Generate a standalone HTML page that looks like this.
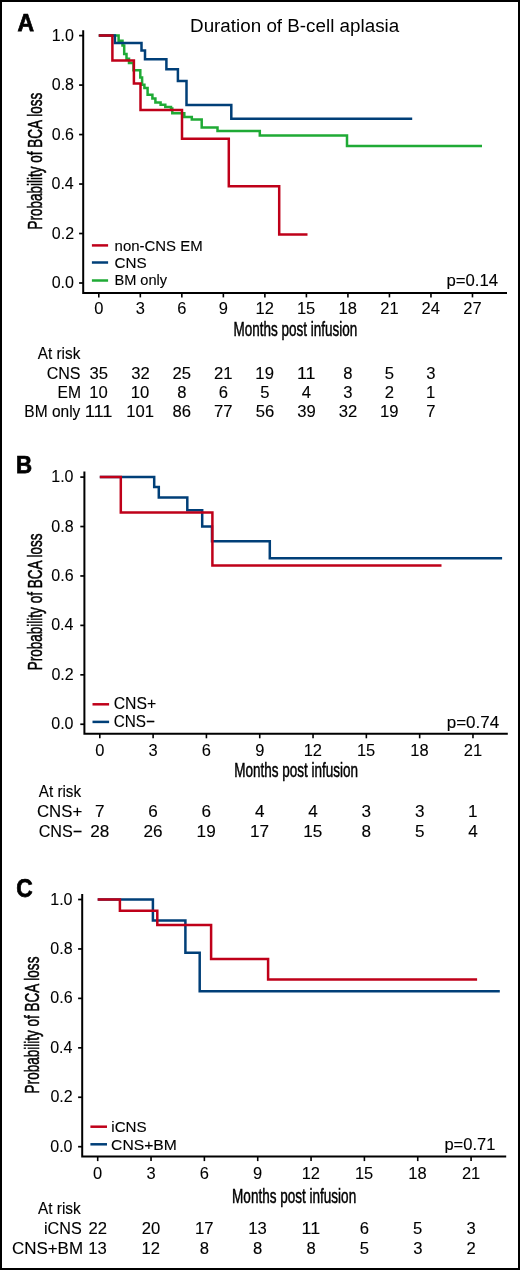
<!DOCTYPE html><html><head><meta charset="utf-8"><style>html,body{margin:0;padding:0;background:#fff;}svg{display:block;will-change:transform;}text{font-family:"Liberation Sans",sans-serif;}</style></head><body>
<svg width="520" height="1270" viewBox="0 0 520 1270">
<rect x="0" y="0" width="520" height="1270" fill="#fff"/>
<rect x="1" y="1" width="518" height="1268" fill="none" stroke="#000" stroke-width="2"/>
<text x="190.06" y="31.6" font-size="18" textLength="209.14" lengthAdjust="spacingAndGlyphs" fill="#000">Duration of B-cell aplasia</text>
<path d="M83.2 31.2 V292.9 H506" fill="none" stroke="#000" stroke-width="2.0" stroke-linecap="square" stroke-linejoin="miter"/>
<path d="M79.1 283 H83.2" stroke="#000" stroke-width="1.7"/>
<text x="51.68" y="288.1" font-size="16" textLength="22.24" lengthAdjust="spacingAndGlyphs" stroke="#000" stroke-width="0.08">0.0</text>
<path d="M79.1 233.52 H83.2" stroke="#000" stroke-width="1.7"/>
<text x="51.86" y="238.62" font-size="16" textLength="22.24" lengthAdjust="spacingAndGlyphs" stroke="#000" stroke-width="0.08">0.2</text>
<path d="M79.1 184.04 H83.2" stroke="#000" stroke-width="1.7"/>
<text x="51.53" y="189.14" font-size="16" textLength="22.24" lengthAdjust="spacingAndGlyphs" stroke="#000" stroke-width="0.08">0.4</text>
<path d="M79.1 134.56 H83.2" stroke="#000" stroke-width="1.7"/>
<text x="51.76" y="139.66" font-size="16" textLength="22.24" lengthAdjust="spacingAndGlyphs" stroke="#000" stroke-width="0.08">0.6</text>
<path d="M79.1 85.08 H83.2" stroke="#000" stroke-width="1.7"/>
<text x="51.75" y="90.18" font-size="16" textLength="22.24" lengthAdjust="spacingAndGlyphs" stroke="#000" stroke-width="0.08">0.8</text>
<path d="M79.1 35.6 H83.2" stroke="#000" stroke-width="1.7"/>
<text x="51.68" y="40.7" font-size="16" textLength="22.24" lengthAdjust="spacingAndGlyphs" stroke="#000" stroke-width="0.08">1.0</text>
<path d="M98.8 292.9 V297.4" stroke="#000" stroke-width="1.6"/>
<text x="94.22" y="314.1" font-size="16" textLength="9.17" lengthAdjust="spacingAndGlyphs" stroke="#000" stroke-width="0.08">0</text>
<path d="M140.32 292.9 V297.4" stroke="#000" stroke-width="1.6"/>
<text x="135.79" y="314.1" font-size="16" textLength="9.17" lengthAdjust="spacingAndGlyphs" stroke="#000" stroke-width="0.08">3</text>
<path d="M181.84 292.9 V297.4" stroke="#000" stroke-width="1.6"/>
<text x="177.2" y="314.1" font-size="16" textLength="9.17" lengthAdjust="spacingAndGlyphs" stroke="#000" stroke-width="0.08">6</text>
<path d="M223.36 292.9 V297.4" stroke="#000" stroke-width="1.6"/>
<text x="218.78" y="314.1" font-size="16" textLength="9.17" lengthAdjust="spacingAndGlyphs" stroke="#000" stroke-width="0.08">9</text>
<path d="M264.88 292.9 V297.4" stroke="#000" stroke-width="1.6"/>
<text x="255.5" y="314.1" font-size="16" textLength="18.33" lengthAdjust="spacingAndGlyphs" stroke="#000" stroke-width="0.08">12</text>
<path d="M306.4 292.9 V297.4" stroke="#000" stroke-width="1.6"/>
<text x="296.95" y="314.1" font-size="16" textLength="18.33" lengthAdjust="spacingAndGlyphs" stroke="#000" stroke-width="0.08">15</text>
<path d="M347.92 292.9 V297.4" stroke="#000" stroke-width="1.6"/>
<text x="338.49" y="314.1" font-size="16" textLength="18.33" lengthAdjust="spacingAndGlyphs" stroke="#000" stroke-width="0.08">18</text>
<path d="M389.44 292.9 V297.4" stroke="#000" stroke-width="1.6"/>
<text x="380.26" y="314.1" font-size="16" textLength="18.33" lengthAdjust="spacingAndGlyphs" stroke="#000" stroke-width="0.08">21</text>
<path d="M430.96 292.9 V297.4" stroke="#000" stroke-width="1.6"/>
<text x="421.62" y="314.1" font-size="16" textLength="18.33" lengthAdjust="spacingAndGlyphs" stroke="#000" stroke-width="0.08">24</text>
<path d="M472.48 292.9 V297.4" stroke="#000" stroke-width="1.6"/>
<text x="463.31" y="314.1" font-size="16" textLength="18.33" lengthAdjust="spacingAndGlyphs" stroke="#000" stroke-width="0.08">27</text>
<text x="233.49" y="336" font-size="19.5" textLength="123.68" lengthAdjust="spacingAndGlyphs" fill="#000" stroke="#000" stroke-width="0.5">Months post infusion</text>
<text transform="translate(41.9,228.5) rotate(-90)" x="-1.1" y="0" font-size="19.8" textLength="136.79" lengthAdjust="spacingAndGlyphs" stroke="#000" stroke-width="0.5">Probability of BCA loss</text>
<path d="M98.8 35.6 H118.6 V40.8 H122.5 V45.5 H124.2 V54 H126.5 V58.8 H129 V63.1 H133.5 V70.3 H140.3 V77.5 H142.1 V84.7 H144.4 V87.9 H147.6 V94.8 H152.4 V98.6 H155.4 V102.4 H160.6 V104.7 H165.3 V107.1 H171 V108.5 H172.3 V113.3 H184.3 V116.9 H191.8 V119.4 H201.7 V127.5 H217.5 V131 H259.8 V135.5 H347 V146.1 H482" fill="none" stroke="#1faa35" stroke-width="2.5" stroke-linejoin="miter" stroke-linecap="butt"/>
<path d="M98.8 35.6 H114.9 V42.9 H141.5 V50.6 H145 V59.2 H166.4 V69.3 H177.9 V81.1 H186.5 V104.9 H231.3 V118.8 H412.2" fill="none" stroke="#003f78" stroke-width="2.5" stroke-linejoin="miter" stroke-linecap="butt"/>
<path d="M98.8 35.6 H112.4 V60.4 H133.9 V83.4 H140.5 V109.9 H182 V138.7 H228.8 V186.2 H279.2 V234.4 H307.5" fill="none" stroke="#bf0019" stroke-width="2.5" stroke-linejoin="miter" stroke-linecap="butt"/>
<path d="M91.9 245.4 H108.1" stroke="#bf0019" stroke-width="2.5"/>
<path d="M91.9 262.5 H108.1" stroke="#003f78" stroke-width="2.5"/>
<path d="M91.9 280.5 H108.1" stroke="#1faa35" stroke-width="2.5"/>
<text x="114.61" y="250.6" font-size="15" textLength="88.02" lengthAdjust="spacingAndGlyphs" fill="#000" stroke="#000" stroke-width="0.12">non-CNS EM</text>
<text x="114.53" y="268.2" font-size="15" textLength="32.17" lengthAdjust="spacingAndGlyphs" fill="#000" stroke="#000" stroke-width="0.12">CNS</text>
<text x="114.4" y="284.7" font-size="15" textLength="52.73" lengthAdjust="spacingAndGlyphs" fill="#000" stroke="#000" stroke-width="0.12">BM only</text>
<text x="446.42" y="285.6" font-size="16.5" textLength="51.67" lengthAdjust="spacingAndGlyphs" fill="#000" stroke="#000" stroke-width="0.12">p=0.14</text>
<text x="17.43" y="30.7" font-size="24" font-weight="bold" textLength="16.58" lengthAdjust="spacingAndGlyphs" fill="#000" stroke="#000" stroke-width="0.75">A</text>
<text x="37.87" y="359.4" font-size="16" textLength="42.41" lengthAdjust="spacingAndGlyphs" fill="#000" stroke="#000" stroke-width="0.12">At risk</text>
<text x="46.69" y="378.8" font-size="16" textLength="33.85" lengthAdjust="spacingAndGlyphs" fill="#000" stroke="#000" stroke-width="0.12">CNS</text>
<text x="89.58" y="378.8" font-size="16" textLength="18.51" lengthAdjust="spacingAndGlyphs" stroke="#000" stroke-width="0.12">35</text>
<text x="131.17" y="378.8" font-size="16" textLength="18.51" lengthAdjust="spacingAndGlyphs" stroke="#000" stroke-width="0.12">32</text>
<text x="172.52" y="378.8" font-size="16" textLength="18.51" lengthAdjust="spacingAndGlyphs" stroke="#000" stroke-width="0.12">25</text>
<text x="214.09" y="378.8" font-size="16" textLength="18.51" lengthAdjust="spacingAndGlyphs" stroke="#000" stroke-width="0.12">21</text>
<text x="255.39" y="378.8" font-size="16" textLength="18.51" lengthAdjust="spacingAndGlyphs" stroke="#000" stroke-width="0.12">19</text>
<text x="296.92" y="378.8" font-size="16" textLength="18.51" lengthAdjust="spacingAndGlyphs" stroke="#000" stroke-width="0.12">11</text>
<text x="343.29" y="378.8" font-size="16" textLength="9.25" lengthAdjust="spacingAndGlyphs" stroke="#000" stroke-width="0.12">8</text>
<text x="384.83" y="378.8" font-size="16" textLength="9.25" lengthAdjust="spacingAndGlyphs" stroke="#000" stroke-width="0.12">5</text>
<text x="426.38" y="378.8" font-size="16" textLength="9.25" lengthAdjust="spacingAndGlyphs" stroke="#000" stroke-width="0.12">3</text>
<text x="57.62" y="398.2" font-size="16" textLength="23.47" lengthAdjust="spacingAndGlyphs" fill="#000" stroke="#000" stroke-width="0.12">EM</text>
<text x="89.24" y="398.2" font-size="16" textLength="18.51" lengthAdjust="spacingAndGlyphs" stroke="#000" stroke-width="0.12">10</text>
<text x="130.76" y="398.2" font-size="16" textLength="18.51" lengthAdjust="spacingAndGlyphs" stroke="#000" stroke-width="0.12">10</text>
<text x="177.21" y="398.2" font-size="16" textLength="9.25" lengthAdjust="spacingAndGlyphs" stroke="#000" stroke-width="0.12">8</text>
<text x="218.68" y="398.2" font-size="16" textLength="9.25" lengthAdjust="spacingAndGlyphs" stroke="#000" stroke-width="0.12">6</text>
<text x="260.27" y="398.2" font-size="16" textLength="9.25" lengthAdjust="spacingAndGlyphs" stroke="#000" stroke-width="0.12">5</text>
<text x="301.83" y="398.2" font-size="16" textLength="9.25" lengthAdjust="spacingAndGlyphs" stroke="#000" stroke-width="0.12">4</text>
<text x="343.34" y="398.2" font-size="16" textLength="9.25" lengthAdjust="spacingAndGlyphs" stroke="#000" stroke-width="0.12">3</text>
<text x="384.81" y="398.2" font-size="16" textLength="9.25" lengthAdjust="spacingAndGlyphs" stroke="#000" stroke-width="0.12">2</text>
<text x="426.11" y="398.2" font-size="16" textLength="9.25" lengthAdjust="spacingAndGlyphs" stroke="#000" stroke-width="0.12">1</text>
<text x="24.33" y="417.4" font-size="16" textLength="56" lengthAdjust="spacingAndGlyphs" fill="#000" stroke="#000" stroke-width="0.12">BM only</text>
<text x="84.69" y="417.4" font-size="16" textLength="27.76" lengthAdjust="spacingAndGlyphs" stroke="#000" stroke-width="0.12">111</text>
<text x="126.21" y="417.4" font-size="16" textLength="27.76" lengthAdjust="spacingAndGlyphs" stroke="#000" stroke-width="0.12">101</text>
<text x="172.59" y="417.4" font-size="16" textLength="18.51" lengthAdjust="spacingAndGlyphs" stroke="#000" stroke-width="0.12">86</text>
<text x="214.1" y="417.4" font-size="16" textLength="18.51" lengthAdjust="spacingAndGlyphs" stroke="#000" stroke-width="0.12">77</text>
<text x="255.66" y="417.4" font-size="16" textLength="18.51" lengthAdjust="spacingAndGlyphs" stroke="#000" stroke-width="0.12">56</text>
<text x="297.22" y="417.4" font-size="16" textLength="18.51" lengthAdjust="spacingAndGlyphs" stroke="#000" stroke-width="0.12">39</text>
<text x="338.77" y="417.4" font-size="16" textLength="18.51" lengthAdjust="spacingAndGlyphs" stroke="#000" stroke-width="0.12">32</text>
<text x="379.95" y="417.4" font-size="16" textLength="18.51" lengthAdjust="spacingAndGlyphs" stroke="#000" stroke-width="0.12">19</text>
<text x="426.32" y="417.4" font-size="16" textLength="9.25" lengthAdjust="spacingAndGlyphs" stroke="#000" stroke-width="0.12">7</text>
<path d="M84.4 472.6 V733.8 H506.8" fill="none" stroke="#000" stroke-width="2.0" stroke-linecap="square" stroke-linejoin="miter"/>
<path d="M80.3 724.25 H84.4" stroke="#000" stroke-width="1.7"/>
<text x="51.28" y="729.35" font-size="16" textLength="22.24" lengthAdjust="spacingAndGlyphs" stroke="#000" stroke-width="0.08">0.0</text>
<path d="M80.3 674.82 H84.4" stroke="#000" stroke-width="1.7"/>
<text x="51.46" y="679.92" font-size="16" textLength="22.24" lengthAdjust="spacingAndGlyphs" stroke="#000" stroke-width="0.08">0.2</text>
<path d="M80.3 625.39 H84.4" stroke="#000" stroke-width="1.7"/>
<text x="51.13" y="630.49" font-size="16" textLength="22.24" lengthAdjust="spacingAndGlyphs" stroke="#000" stroke-width="0.08">0.4</text>
<path d="M80.3 575.96 H84.4" stroke="#000" stroke-width="1.7"/>
<text x="51.36" y="581.06" font-size="16" textLength="22.24" lengthAdjust="spacingAndGlyphs" stroke="#000" stroke-width="0.08">0.6</text>
<path d="M80.3 526.53 H84.4" stroke="#000" stroke-width="1.7"/>
<text x="51.35" y="531.63" font-size="16" textLength="22.24" lengthAdjust="spacingAndGlyphs" stroke="#000" stroke-width="0.08">0.8</text>
<path d="M80.3 477.1 H84.4" stroke="#000" stroke-width="1.7"/>
<text x="51.28" y="482.2" font-size="16" textLength="22.24" lengthAdjust="spacingAndGlyphs" stroke="#000" stroke-width="0.08">1.0</text>
<path d="M99.8 733.8 V738.3" stroke="#000" stroke-width="1.6"/>
<text x="95.22" y="755.7" font-size="16" textLength="9.17" lengthAdjust="spacingAndGlyphs" stroke="#000" stroke-width="0.08">0</text>
<path d="M153.11 733.8 V738.3" stroke="#000" stroke-width="1.6"/>
<text x="148.58" y="755.7" font-size="16" textLength="9.17" lengthAdjust="spacingAndGlyphs" stroke="#000" stroke-width="0.08">3</text>
<path d="M206.42 733.8 V738.3" stroke="#000" stroke-width="1.6"/>
<text x="201.78" y="755.7" font-size="16" textLength="9.17" lengthAdjust="spacingAndGlyphs" stroke="#000" stroke-width="0.08">6</text>
<path d="M259.73 733.8 V738.3" stroke="#000" stroke-width="1.6"/>
<text x="255.15" y="755.7" font-size="16" textLength="9.17" lengthAdjust="spacingAndGlyphs" stroke="#000" stroke-width="0.08">9</text>
<path d="M313.04 733.8 V738.3" stroke="#000" stroke-width="1.6"/>
<text x="303.66" y="755.7" font-size="16" textLength="18.33" lengthAdjust="spacingAndGlyphs" stroke="#000" stroke-width="0.08">12</text>
<path d="M366.35 733.8 V738.3" stroke="#000" stroke-width="1.6"/>
<text x="356.9" y="755.7" font-size="16" textLength="18.33" lengthAdjust="spacingAndGlyphs" stroke="#000" stroke-width="0.08">15</text>
<path d="M419.66 733.8 V738.3" stroke="#000" stroke-width="1.6"/>
<text x="410.23" y="755.7" font-size="16" textLength="18.33" lengthAdjust="spacingAndGlyphs" stroke="#000" stroke-width="0.08">18</text>
<path d="M472.97 733.8 V738.3" stroke="#000" stroke-width="1.6"/>
<text x="463.79" y="755.7" font-size="16" textLength="18.33" lengthAdjust="spacingAndGlyphs" stroke="#000" stroke-width="0.08">21</text>
<text x="234.19" y="777.3" font-size="19.5" textLength="123.89" lengthAdjust="spacingAndGlyphs" fill="#000" stroke="#000" stroke-width="0.5">Months post infusion</text>
<text transform="translate(41.9,669.2) rotate(-90)" x="-1.1" y="0" font-size="19.8" textLength="136.89" lengthAdjust="spacingAndGlyphs" stroke="#000" stroke-width="0.5">Probability of BCA loss</text>
<path d="M99.8 476.9 H154.2 V487 H158.8 V497.6 H187.3 V510.3 H202.2 V526.5 H212 V541.3 H269.8 V558.2 H502.1" fill="none" stroke="#003f78" stroke-width="2.5" stroke-linejoin="miter" stroke-linecap="butt"/>
<path d="M99.8 476.9 H120.8 V512.6 H212.4 V565.6 H441.5" fill="none" stroke="#bf0019" stroke-width="2.5" stroke-linejoin="miter" stroke-linecap="butt"/>
<path d="M92.5 704.3 H109.1" stroke="#bf0019" stroke-width="2.5"/>
<path d="M92.5 721.9 H109.1" stroke="#003f78" stroke-width="2.5"/>
<text x="113.7" y="708.9" font-size="16.5" textLength="42.48" lengthAdjust="spacingAndGlyphs" fill="#000" stroke="#000" stroke-width="0.12">CNS+</text>
<text x="113.72" y="726.5" font-size="16.5" textLength="41.33" lengthAdjust="spacingAndGlyphs" fill="#000" stroke="#000" stroke-width="0.12">CNS−</text>
<text x="446.7" y="727.6" font-size="16.5" textLength="52.49" lengthAdjust="spacingAndGlyphs" fill="#000" stroke="#000" stroke-width="0.12">p=0.74</text>
<text x="15.91" y="473.1" font-size="24" font-weight="bold" textLength="16.1" lengthAdjust="spacingAndGlyphs" fill="#000" stroke="#000" stroke-width="0.75">B</text>
<text x="38.77" y="797.3" font-size="16.5" textLength="42.31" lengthAdjust="spacingAndGlyphs" fill="#000" stroke="#000" stroke-width="0.12">At risk</text>
<text x="36.95" y="816.9" font-size="16.5" textLength="45.28" lengthAdjust="spacingAndGlyphs" fill="#000" stroke="#000" stroke-width="0.12">CNS+</text>
<text x="95.02" y="816.9" font-size="16.5" textLength="9.54" lengthAdjust="spacingAndGlyphs" stroke="#000" stroke-width="0.12">7</text>
<text x="148.28" y="816.9" font-size="16.5" textLength="9.54" lengthAdjust="spacingAndGlyphs" stroke="#000" stroke-width="0.12">6</text>
<text x="201.59" y="816.9" font-size="16.5" textLength="9.54" lengthAdjust="spacingAndGlyphs" stroke="#000" stroke-width="0.12">6</text>
<text x="255.01" y="816.9" font-size="16.5" textLength="9.54" lengthAdjust="spacingAndGlyphs" stroke="#000" stroke-width="0.12">4</text>
<text x="308.32" y="816.9" font-size="16.5" textLength="9.54" lengthAdjust="spacingAndGlyphs" stroke="#000" stroke-width="0.12">4</text>
<text x="361.63" y="816.9" font-size="16.5" textLength="9.54" lengthAdjust="spacingAndGlyphs" stroke="#000" stroke-width="0.12">3</text>
<text x="414.94" y="816.9" font-size="16.5" textLength="9.54" lengthAdjust="spacingAndGlyphs" stroke="#000" stroke-width="0.12">3</text>
<text x="467.96" y="816.9" font-size="16.5" textLength="9.54" lengthAdjust="spacingAndGlyphs" stroke="#000" stroke-width="0.12">1</text>
<text x="38.68" y="836.9" font-size="16.5" textLength="43.51" lengthAdjust="spacingAndGlyphs" fill="#000" stroke="#000" stroke-width="0.12">CNS−</text>
<text x="90.2" y="836.9" font-size="16.5" textLength="19.09" lengthAdjust="spacingAndGlyphs" stroke="#000" stroke-width="0.12">28</text>
<text x="143.51" y="836.9" font-size="16.5" textLength="19.09" lengthAdjust="spacingAndGlyphs" stroke="#000" stroke-width="0.12">26</text>
<text x="196.63" y="836.9" font-size="16.5" textLength="19.09" lengthAdjust="spacingAndGlyphs" stroke="#000" stroke-width="0.12">19</text>
<text x="249.96" y="836.9" font-size="16.5" textLength="19.09" lengthAdjust="spacingAndGlyphs" stroke="#000" stroke-width="0.12">17</text>
<text x="303.2" y="836.9" font-size="16.5" textLength="19.09" lengthAdjust="spacingAndGlyphs" stroke="#000" stroke-width="0.12">15</text>
<text x="361.58" y="836.9" font-size="16.5" textLength="9.54" lengthAdjust="spacingAndGlyphs" stroke="#000" stroke-width="0.12">8</text>
<text x="414.9" y="836.9" font-size="16.5" textLength="9.54" lengthAdjust="spacingAndGlyphs" stroke="#000" stroke-width="0.12">5</text>
<text x="468.25" y="836.9" font-size="16.5" textLength="9.54" lengthAdjust="spacingAndGlyphs" stroke="#000" stroke-width="0.12">4</text>
<path d="M82.2 894.9 V1156.6 H505.2" fill="none" stroke="#000" stroke-width="2.0" stroke-linecap="square" stroke-linejoin="miter"/>
<path d="M78.1 1146.7 H82.2" stroke="#000" stroke-width="1.7"/>
<text x="50.28" y="1151.8" font-size="16" textLength="22.24" lengthAdjust="spacingAndGlyphs" stroke="#000" stroke-width="0.08">0.0</text>
<path d="M78.1 1097.26 H82.2" stroke="#000" stroke-width="1.7"/>
<text x="50.46" y="1102.36" font-size="16" textLength="22.24" lengthAdjust="spacingAndGlyphs" stroke="#000" stroke-width="0.08">0.2</text>
<path d="M78.1 1047.82 H82.2" stroke="#000" stroke-width="1.7"/>
<text x="50.13" y="1052.92" font-size="16" textLength="22.24" lengthAdjust="spacingAndGlyphs" stroke="#000" stroke-width="0.08">0.4</text>
<path d="M78.1 998.38 H82.2" stroke="#000" stroke-width="1.7"/>
<text x="50.36" y="1003.48" font-size="16" textLength="22.24" lengthAdjust="spacingAndGlyphs" stroke="#000" stroke-width="0.08">0.6</text>
<path d="M78.1 948.94 H82.2" stroke="#000" stroke-width="1.7"/>
<text x="50.35" y="954.04" font-size="16" textLength="22.24" lengthAdjust="spacingAndGlyphs" stroke="#000" stroke-width="0.08">0.8</text>
<path d="M78.1 899.5 H82.2" stroke="#000" stroke-width="1.7"/>
<text x="50.28" y="904.6" font-size="16" textLength="22.24" lengthAdjust="spacingAndGlyphs" stroke="#000" stroke-width="0.08">1.0</text>
<path d="M97.7 1156.6 V1161.1" stroke="#000" stroke-width="1.6"/>
<text x="93.12" y="1178.8" font-size="16" textLength="9.17" lengthAdjust="spacingAndGlyphs" stroke="#000" stroke-width="0.08">0</text>
<path d="M151.04 1156.6 V1161.1" stroke="#000" stroke-width="1.6"/>
<text x="146.51" y="1178.8" font-size="16" textLength="9.17" lengthAdjust="spacingAndGlyphs" stroke="#000" stroke-width="0.08">3</text>
<path d="M204.38 1156.6 V1161.1" stroke="#000" stroke-width="1.6"/>
<text x="199.74" y="1178.8" font-size="16" textLength="9.17" lengthAdjust="spacingAndGlyphs" stroke="#000" stroke-width="0.08">6</text>
<path d="M257.72 1156.6 V1161.1" stroke="#000" stroke-width="1.6"/>
<text x="253.14" y="1178.8" font-size="16" textLength="9.17" lengthAdjust="spacingAndGlyphs" stroke="#000" stroke-width="0.08">9</text>
<path d="M311.06 1156.6 V1161.1" stroke="#000" stroke-width="1.6"/>
<text x="301.68" y="1178.8" font-size="16" textLength="18.33" lengthAdjust="spacingAndGlyphs" stroke="#000" stroke-width="0.08">12</text>
<path d="M364.4 1156.6 V1161.1" stroke="#000" stroke-width="1.6"/>
<text x="354.95" y="1178.8" font-size="16" textLength="18.33" lengthAdjust="spacingAndGlyphs" stroke="#000" stroke-width="0.08">15</text>
<path d="M417.74 1156.6 V1161.1" stroke="#000" stroke-width="1.6"/>
<text x="408.31" y="1178.8" font-size="16" textLength="18.33" lengthAdjust="spacingAndGlyphs" stroke="#000" stroke-width="0.08">18</text>
<path d="M471.08 1156.6 V1161.1" stroke="#000" stroke-width="1.6"/>
<text x="461.9" y="1178.8" font-size="16" textLength="18.33" lengthAdjust="spacingAndGlyphs" stroke="#000" stroke-width="0.08">21</text>
<text x="232.09" y="1202.8" font-size="19.5" textLength="124.09" lengthAdjust="spacingAndGlyphs" fill="#000" stroke="#000" stroke-width="0.5">Months post infusion</text>
<text transform="translate(39,1092.3) rotate(-90)" x="-1.1" y="0" font-size="19.8" textLength="136.79" lengthAdjust="spacingAndGlyphs" stroke="#000" stroke-width="0.5">Probability of BCA loss</text>
<path d="M97.7 899.4 H152.9 V920.4 H185.4 V952.7 H199.7 V991.3 H499.8" fill="none" stroke="#003f78" stroke-width="2.5" stroke-linejoin="miter" stroke-linecap="butt"/>
<path d="M97.7 899.4 H119.9 V910.7 H157.3 V924.9 H211.1 V958.9 H268.1 V979.5 H477.1" fill="none" stroke="#bf0019" stroke-width="2.5" stroke-linejoin="miter" stroke-linecap="butt"/>
<path d="M90.4 1126.7 H107" stroke="#bf0019" stroke-width="2.5"/>
<path d="M90.4 1144.3 H107" stroke="#003f78" stroke-width="2.5"/>
<text x="111.28" y="1132.2" font-size="15" textLength="35.41" lengthAdjust="spacingAndGlyphs" fill="#000" stroke="#000" stroke-width="0.12">iCNS</text>
<text x="111.11" y="1149.6" font-size="15" textLength="65.68" lengthAdjust="spacingAndGlyphs" fill="#000" stroke="#000" stroke-width="0.12">CNS+BM</text>
<text x="444.44" y="1149.6" font-size="16.5" textLength="50.97" lengthAdjust="spacingAndGlyphs" fill="#000" stroke="#000" stroke-width="0.12">p=0.71</text>
<text x="16.37" y="897.2" font-size="25" font-weight="bold" textLength="16.46" lengthAdjust="spacingAndGlyphs" fill="#000" stroke="#000" stroke-width="0.75">C</text>
<text x="37.97" y="1213.9" font-size="16" textLength="42.71" lengthAdjust="spacingAndGlyphs" fill="#000" stroke="#000" stroke-width="0.12">At risk</text>
<text x="44.02" y="1233.7" font-size="16" textLength="37.72" lengthAdjust="spacingAndGlyphs" fill="#000" stroke="#000" stroke-width="0.12">iCNS</text>
<text x="88.45" y="1233.7" font-size="16" textLength="18.51" lengthAdjust="spacingAndGlyphs" stroke="#000" stroke-width="0.12">22</text>
<text x="141.69" y="1233.7" font-size="16" textLength="18.51" lengthAdjust="spacingAndGlyphs" stroke="#000" stroke-width="0.12">20</text>
<text x="194.91" y="1233.7" font-size="16" textLength="18.51" lengthAdjust="spacingAndGlyphs" stroke="#000" stroke-width="0.12">17</text>
<text x="248.2" y="1233.7" font-size="16" textLength="18.51" lengthAdjust="spacingAndGlyphs" stroke="#000" stroke-width="0.12">13</text>
<text x="301.58" y="1233.7" font-size="16" textLength="18.51" lengthAdjust="spacingAndGlyphs" stroke="#000" stroke-width="0.12">11</text>
<text x="359.72" y="1233.7" font-size="16" textLength="9.25" lengthAdjust="spacingAndGlyphs" stroke="#000" stroke-width="0.12">6</text>
<text x="413.13" y="1233.7" font-size="16" textLength="9.25" lengthAdjust="spacingAndGlyphs" stroke="#000" stroke-width="0.12">5</text>
<text x="466.5" y="1233.7" font-size="16" textLength="9.25" lengthAdjust="spacingAndGlyphs" stroke="#000" stroke-width="0.12">3</text>
<text x="11.94" y="1253.7" font-size="16" textLength="71.05" lengthAdjust="spacingAndGlyphs" fill="#000" stroke="#000" stroke-width="0.12">CNS+BM</text>
<text x="88.18" y="1253.7" font-size="16" textLength="18.51" lengthAdjust="spacingAndGlyphs" stroke="#000" stroke-width="0.12">13</text>
<text x="141.57" y="1253.7" font-size="16" textLength="18.51" lengthAdjust="spacingAndGlyphs" stroke="#000" stroke-width="0.12">12</text>
<text x="199.75" y="1253.7" font-size="16" textLength="9.25" lengthAdjust="spacingAndGlyphs" stroke="#000" stroke-width="0.12">8</text>
<text x="253.09" y="1253.7" font-size="16" textLength="9.25" lengthAdjust="spacingAndGlyphs" stroke="#000" stroke-width="0.12">8</text>
<text x="306.43" y="1253.7" font-size="16" textLength="9.25" lengthAdjust="spacingAndGlyphs" stroke="#000" stroke-width="0.12">8</text>
<text x="359.79" y="1253.7" font-size="16" textLength="9.25" lengthAdjust="spacingAndGlyphs" stroke="#000" stroke-width="0.12">5</text>
<text x="413.16" y="1253.7" font-size="16" textLength="9.25" lengthAdjust="spacingAndGlyphs" stroke="#000" stroke-width="0.12">3</text>
<text x="466.45" y="1253.7" font-size="16" textLength="9.25" lengthAdjust="spacingAndGlyphs" stroke="#000" stroke-width="0.12">2</text>
</svg></body></html>
